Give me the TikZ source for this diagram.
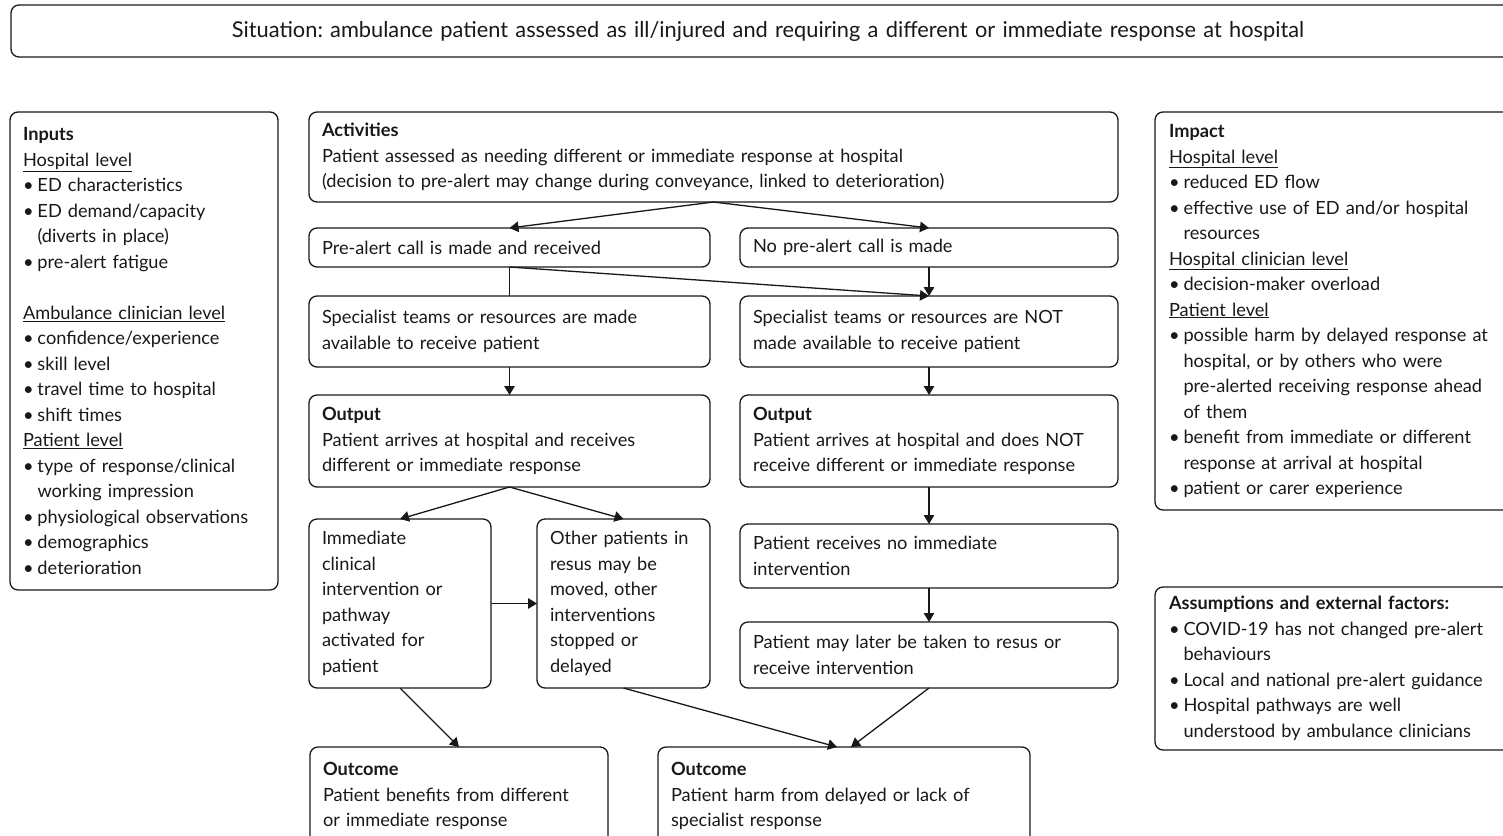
\documentclass[tikz,border=0pt]{standalone}
\usepackage{fontspec}
\setmainfont[WordSpace=0.8]{Lato}
\usetikzlibrary{arrows.meta, positioning}
\definecolor{ink}{HTML}{1A1718}
\frenchspacing
\newcommand{\bodyfont}{\fontsize{18.2pt}{25.5pt}\selectfont}
\newcommand{\bitem}{\makebox[14.5pt][l]{\textbullet}}
\newcommand{\bcont}{\hspace*{14.5pt}}

\begin{document}
\begin{tikzpicture}[
    x=1pt, y=-1pt,
    box/.style={rectangle, draw=ink, line width=1.3pt, rounded corners=8pt, align=left, inner xsep=13pt, inner ysep=0pt, outer sep=0pt, font=\bodyfont, text=ink},
    arrow/.style={-{Triangle[length=9pt, width=10.5pt]}, draw=ink, line width=1.3pt},
    link/.style={draw=ink, line width=1.3pt}
]
    \useasboundingbox (0,0) rectangle (1503,835);
    \clip (0,0) rectangle (1503,835);

    % situation
    \node[box, anchor=north west, align=center, text width=1488pt, minimum height=52pt, font=\fontsize{21.8pt}{26pt}\selectfont] (sit) at (11,5)
        {Situation: ambulance patient assessed as ill/injured and requiring a different or immediate response at hospital};

    % inputs
    \node[box, anchor=north west, text width=242pt, minimum height=478pt] (inputs) at (10,112)
        {\textbf{Inputs}\\
         \underline{Hospital level}\\
         \bitem ED characteristics\\
         \bitem ED demand/capacity\\
         \bcont (diverts in place)\\
         \bitem pre-alert fatigue\\[25.5pt]
         \underline{Ambulance clinician level}\\
         \bitem confidence/experience\\
         \bitem skill level\\
         \bitem travel time to hospital\\
         \bitem shift times\\
         \underline{Patient level}\\
         \bitem type of response/clinical\\
         \bcont working impression\\
         \bitem physiological observations\\
         \bitem demographics\\
         \bitem deterioration};

    % activities
    \node[box, anchor=north west, text width=783pt, minimum height=90pt] (act) at (309,112)
        {\textbf{Activities}\\
         Patient assessed as needing different or immediate response at hospital\\
         (decision to pre-alert may change during conveyance, linked to deterioration)};

    % pre-alert or not
    \node[box, anchor=north west, text width=375pt, minimum height=39pt] (pre) at (309,228) {Pre-alert call is made and received};
    \node[box, text width=352pt, minimum height=39pt, right=30pt of pre] (nopre) {No pre-alert call is made};

    % specialist teams
    \node[box, text width=375pt, minimum height=71pt, below=29pt of pre] (specL)
        {Specialist teams or resources are made\\available to receive patient};
    \node[box, text width=352pt, minimum height=71pt, below=29pt of nopre] (specR)
        {Specialist teams or resources are NOT\\made available to receive patient};

    % outputs
    \node[box, text width=375pt, minimum height=92pt, below=28pt of specL] (outL)
        {\textbf{Output}\\Patient arrives at hospital and receives\\different or immediate response};
    \node[box, text width=352pt, minimum height=92pt, below=28pt of specR] (outR)
        {\textbf{Output}\\Patient arrives at hospital and does NOT\\receive different or immediate response};

    % left branch
    \node[box, anchor=north west, text width=156pt, minimum height=169pt] (immed) at (309,519)
        {Immediate\\clinical\\intervention or\\pathway\\activated for\\patient};
    \node[box, text width=147pt, minimum height=169pt, right=46pt of immed] (other)
        {Other patients in\\resus may be\\moved, other\\interventions\\stopped or\\delayed};

    % right branch
    \node[box, text width=352pt, minimum height=64pt, below=37pt of outR] (norec)
        {Patient receives no immediate\\intervention};
    \node[box, text width=352pt, minimum height=66pt, below=34pt of norec] (later)
        {Patient may later be taken to resus or\\receive intervention};

    % outcomes
    \node[box, anchor=north west, text width=272pt, minimum height=98pt] (outcL) at (310,747)
        {\textbf{Outcome}\\Patient benefits from different\\or immediate response};
    \node[box, text width=346pt, minimum height=98pt, right=50pt of outcL] (outcR)
        {\textbf{Outcome}\\Patient harm from delayed or lack of\\specialist response};

    % impact
    \node[box, anchor=north west, inner xsep=14pt, text width=354pt, minimum height=398pt] (impact) at (1155,112)
        {\textbf{Impact}\\
         \underline{Hospital level}\\
         \bitem reduced ED flow\\
         \bitem effective use of ED and/or hospital\\
         \bcont resources\\
         \underline{Hospital clinician level}\\
         \bitem decision-maker overload\\
         \underline{Patient level}\\
         \bitem possible harm by delayed response at\\
         \bcont hospital, or by others who were\\
         \bcont pre-alerted receiving response ahead\\
         \bcont of them\\
         \bitem benefit from immediate or different\\
         \bcont response at arrival at hospital\\
         \bitem patient or carer experience};

    % assumptions
    \node[box, anchor=north west, inner xsep=14pt, text width=354pt, minimum height=163pt] (assump) at (1155,587)
        {\textbf{Assumptions and external factors:}\\
         \bitem COVID-19 has not changed pre-alert\\
         \bcont behaviours\\
         \bitem Local and national pre-alert guidance\\
         \bitem Hospital pathways are well\\
         \bcont understood by ambulance clinicians};

    % arrows
    \draw[arrow] (act.south) -- (pre.north);
    \draw[arrow] (act.south) -- (nopre.north);
    \draw[link] (pre.south) -- (specL.north);
    \draw[arrow] (pre.south) -- (specR.north);
    \draw[arrow] (nopre.south) -- (specR.north);
    \draw[arrow] (specL.south) -- (outL.north);
    \draw[arrow] (specR.south) -- (outR.north);
    \draw[arrow] (outL.south) -- (immed.north);
    \draw[arrow] (outL.south) -- (other.north);
    \draw[arrow] (immed.east) -- (other.west);
    \draw[arrow] (outR.south) -- (norec.north);
    \draw[arrow] (norec.south) -- (later.north);
    \draw[arrow] (immed.south) -- (outcL.north);
    \draw[arrow] (other.south) -- ([xshift=-7pt]outcR.north);
    \draw[arrow] (later.south) -- ([xshift=7pt]outcR.north);
\end{tikzpicture}
\end{document}
